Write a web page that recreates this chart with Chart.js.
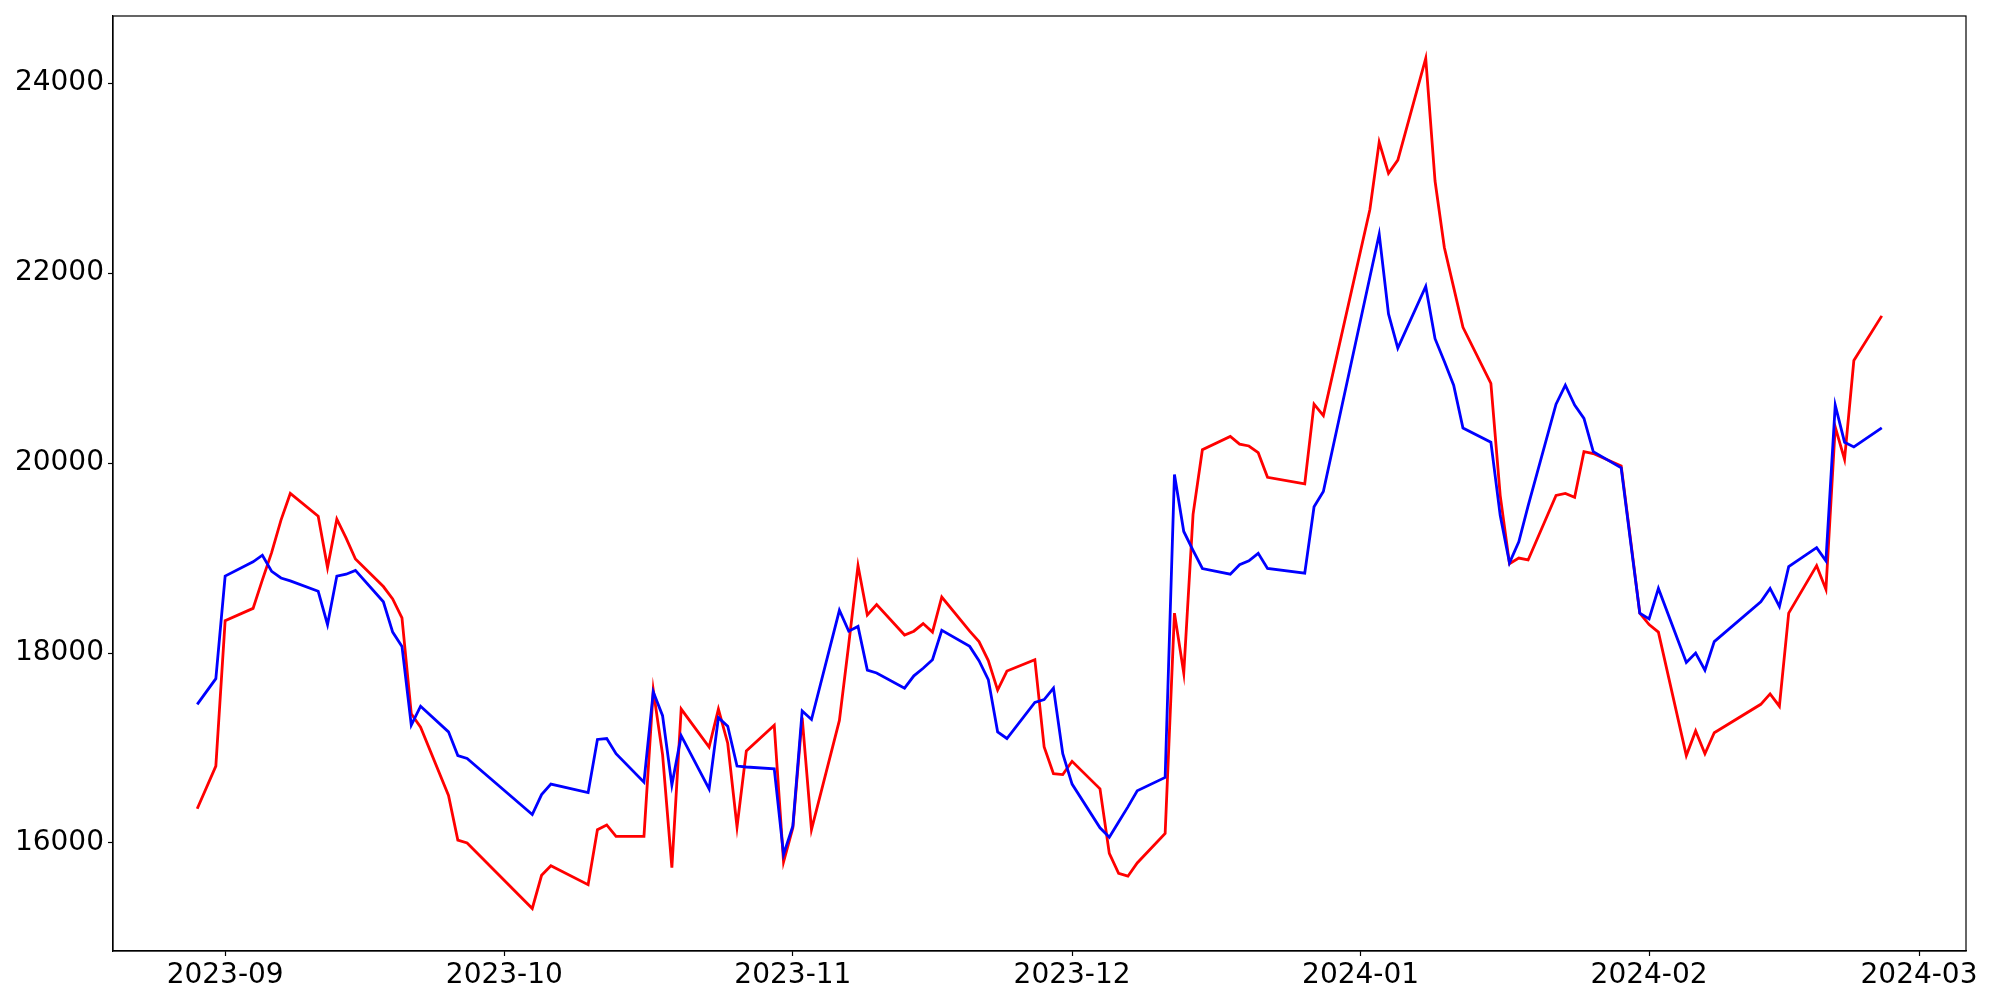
<!DOCTYPE html>
<html>
<head>
<meta charset="utf-8">
<script src="https://cdn.jsdelivr.net/npm/chart.js@4.4.0/dist/chart.umd.min.js"></script>
<style>
html, body { margin: 0; padding: 0; background: #fff; }
</style>
</head>
<body>
<canvas id="chart" width="2000" height="1000"></canvas>
<script>
// === DATES (jours de bourse) ===
const dates = [
    "2023-08-29", "2023-08-31", "2023-09-01", "2023-09-04", "2023-09-05", "2023-09-06", "2023-09-07", "2023-09-08",
    "2023-09-11", "2023-09-12", "2023-09-13", "2023-09-14", "2023-09-15", "2023-09-18", "2023-09-19", "2023-09-20",
    "2023-09-21", "2023-09-22", "2023-09-25", "2023-09-26", "2023-09-27",
    "2023-10-04", "2023-10-05", "2023-10-06", "2023-10-10", "2023-10-11", "2023-10-12", "2023-10-13", "2023-10-16",
    "2023-10-17", "2023-10-18", "2023-10-19", "2023-10-20", "2023-10-23", "2023-10-24", "2023-10-25", "2023-10-26",
    "2023-10-27", "2023-10-30", "2023-10-31",
    "2023-11-01", "2023-11-02", "2023-11-03", "2023-11-06", "2023-11-07", "2023-11-08", "2023-11-09", "2023-11-10",
    "2023-11-13", "2023-11-14", "2023-11-15", "2023-11-16", "2023-11-17", "2023-11-20", "2023-11-21", "2023-11-22",
    "2023-11-23", "2023-11-24", "2023-11-27", "2023-11-28", "2023-11-29", "2023-11-30",
    "2023-12-01", "2023-12-04", "2023-12-05", "2023-12-06", "2023-12-07", "2023-12-08", "2023-12-11", "2023-12-12",
    "2023-12-13", "2023-12-14", "2023-12-15", "2023-12-18", "2023-12-19", "2023-12-20", "2023-12-21", "2023-12-22",
    "2023-12-26", "2023-12-27", "2023-12-28",
    "2024-01-02", "2024-01-03", "2024-01-04", "2024-01-05", "2024-01-08", "2024-01-09", "2024-01-10", "2024-01-11",
    "2024-01-12", "2024-01-15", "2024-01-16", "2024-01-17", "2024-01-18", "2024-01-19", "2024-01-22", "2024-01-23",
    "2024-01-24", "2024-01-25", "2024-01-26", "2024-01-29", "2024-01-30", "2024-01-31",
    "2024-02-01", "2024-02-02", "2024-02-05", "2024-02-06", "2024-02-07", "2024-02-08", "2024-02-13", "2024-02-14",
    "2024-02-15", "2024-02-16", "2024-02-19", "2024-02-20", "2024-02-21", "2024-02-22", "2024-02-23", "2024-02-26"
];

// === SERIE ROUGE ===
const redValues = [
    16360, 16810, 18340, 18470, 18770, 19060, 19400, 19680,
    19440, 18900, 19410, 19210, 18990, 18700, 18570, 18370,
    17360, 17220, 16500, 16030, 16000,
    15310, 15660, 15760, 15560, 16140, 16190, 16070, 16070,
    17610, 16930, 15740, 17410, 17010, 17410, 17050, 16170,
    16970, 17240, 15800,
    16160, 17320, 16140, 17290, 18090, 18920, 18400, 18510,
    18190, 18230, 18310, 18220, 18590, 18230, 18120, 17920,
    17610, 17810, 17930, 17010, 16730, 16720,
    16860, 16570, 15890, 15680, 15650, 15790, 16100, 18420,
    17790, 19460, 20140, 20280, 20200, 20180, 20110, 19850,
    19780, 20620, 20500,
    22670, 23380, 23050, 23190, 24260, 22970, 22270, 21850,
    21430, 20840, 19660, 18940, 19000, 18980, 19660, 19680,
    19640, 20120, 20100, 19970, 19200, 18420,
    18300, 18220, 16920, 17180, 16940, 17160, 17460, 17570,
    17440, 18420, 18920, 18670, 20380, 20040, 21080, 21550
];

// === SERIE BLEUE ===
const blueValues = [
    17460, 17730, 18810, 18960, 19030, 18860, 18790, 18760,
    18650, 18300, 18810, 18830, 18870, 18540, 18220, 18070,
    17240, 17440, 17170, 16920, 16890,
    16300, 16510, 16620, 16530, 17090, 17100, 16940, 16640,
    17590, 17340, 16610, 17130, 16570, 17320, 17230, 16810,
    16800, 16780, 15880,
    16180, 17390, 17300, 18450, 18230, 18280, 17820, 17790,
    17630, 17760, 17840, 17930, 18240, 18070, 17920, 17720,
    17170, 17100, 17480, 17510, 17630, 16940,
    16620, 16160, 16060, 16220, 16380, 16550, 16690, 19880,
    19280, 19080, 18890, 18830, 18930, 18970, 19050, 18890,
    18840, 19540, 19700,
    21960, 22410, 21570, 21210, 21860, 21310, 21070, 20820,
    20370, 20220, 19450, 18950, 19170, 19550, 20620, 20820,
    20610, 20470, 20120, 19950, 19180, 18420,
    18360, 18680, 17900, 18000, 17820, 18120, 18540, 18680,
    18490, 18910, 19110, 18970, 20610, 20220, 20170, 20370
];

// === GRADUATIONS ===
const xTickLabels = ["2023-09", "2023-10", "2023-11", "2023-12", "2024-01", "2024-02", "2024-03"];
const yTicks = [16000, 18000, 20000, 22000, 24000];


function toDay(s) {
    const p = s.split("-").map(Number);
    return Date.UTC(p[0], p[1] - 1, p[2] || 1) / 86400000;
}

const xs = dates.map(toDay);
const xTickPos = xTickLabels.map(toDay);

// marges 5% comme matplotlib
const xSpan = xs[xs.length - 1] - xs[0];
const xMin = xs[0] - 0.05 * xSpan;
const xMax = xs[xs.length - 1] + 0.05 * xSpan;

const allY = redValues.concat(blueValues);
const yLo = Math.min(...allY), yHi = Math.max(...allY);
const ySpan = yHi - yLo;
const yMin = yLo - 0.05 * ySpan;
const yMax = yHi + 0.05 * ySpan;

const tickFont = { family: "DejaVu Sans", size: 28 };

// cadre complet autour de la zone du graphe
const framePlugin = {
    id: "frame",
    afterDraw(chart) {
        const a = chart.chartArea;
        const ctx = chart.ctx;
        ctx.save();
        ctx.strokeStyle = "#000";
        ctx.lineWidth = 1.2;
        ctx.strokeRect(a.left, a.top, a.right - a.left, a.bottom - a.top);
        ctx.restore();
    }
};

new Chart(document.getElementById("chart"), {
    type: "line",
    data: {
        datasets: [
            {
                data: xs.map((x, i) => ({ x: x, y: redValues[i] })),
                borderColor: "#ff0000",
                borderWidth: 2.8,
                pointRadius: 0,
                tension: 0,
                fill: false,
                order: 1
            },
            {
                data: xs.map((x, i) => ({ x: x, y: blueValues[i] })),
                borderColor: "#0000ff",
                borderWidth: 2.8,
                pointRadius: 0,
                tension: 0,
                fill: false,
                order: 0
            }
        ]
    },
    options: {
        responsive: false,
        animation: false,
        devicePixelRatio: 1,
        layout: { padding: { top: 16, right: 34, bottom: 0, left: 0 } },
        plugins: {
            legend: { display: false },
            tooltip: { enabled: false }
        },
        scales: {
            x: {
                type: "linear",
                min: xMin,
                max: xMax,
                afterBuildTicks: s => { s.ticks = xTickPos.map(v => ({ value: v })); },
                afterFit: s => { s.height = 49; s.paddingLeft = 0; s.paddingRight = 0; },
                ticks: {
                    callback: (v, i) => xTickLabels[i],
                    font: tickFont,
                    color: "#000",
                    padding: 3,
                    maxRotation: 0,
                    autoSkip: false
                },
                grid: { drawOnChartArea: false, drawTicks: true, tickLength: 5, tickColor: "#000", tickWidth: 1.2 },
                border: { display: true, color: "#000", width: 1.2 }
            },
            y: {
                type: "linear",
                min: yMin,
                max: yMax,
                afterBuildTicks: s => { s.ticks = yTicks.map(v => ({ value: v })); },
                afterFit: s => { s.width = 113; s.paddingTop = 0; s.paddingBottom = 0; },
                ticks: {
                    callback: v => String(v),
                    font: tickFont,
                    color: "#000",
                    padding: 4
                },
                grid: { drawOnChartArea: false, drawTicks: true, tickLength: 5, tickColor: "#000", tickWidth: 1.2 },
                border: { display: true, color: "#000", width: 1.2 }
            }
        }
    },
    plugins: [framePlugin]
});
</script>
</body>
</html>
